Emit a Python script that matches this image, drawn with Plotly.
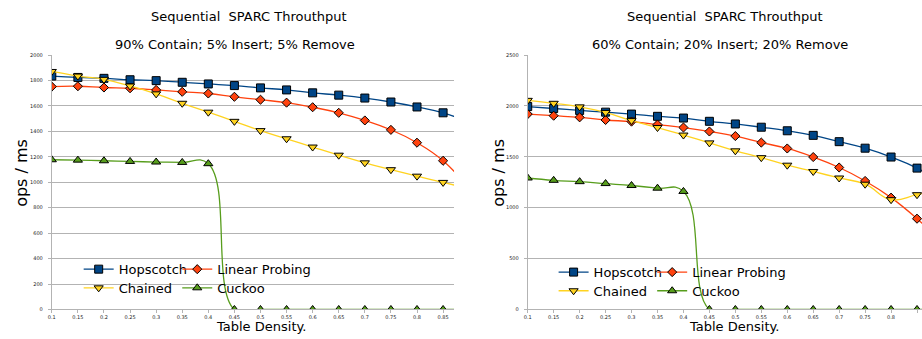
import plotly.graph_objects as go

# ---------------- data ----------------
density = [0.1, 0.15, 0.2, 0.25, 0.3, 0.35, 0.4, 0.45, 0.5, 0.55, 0.6, 0.65, 0.7, 0.75, 0.8, 0.85, 0.9]
x_tick_labels = ["0.1", "0.15", "0.2", "0.25", "0.3", "0.35", "0.4", "0.45", "0.5", "0.55",
                 "0.6", "0.65", "0.7", "0.75", "0.8", "0.85", "0.9"]

# Left chart: 90% Contain; 5% Insert; 5% Remove
left_hopscotch = [1835, 1824, 1817, 1806, 1799, 1786, 1773, 1760, 1742, 1726, 1703, 1685, 1662, 1631, 1592, 1546, 1470]
left_linear = [1752, 1755, 1745, 1739, 1726, 1711, 1698, 1672, 1649, 1626, 1590, 1546, 1486, 1412, 1311, 1169, 950]
left_chained = [1871, 1835, 1809, 1757, 1695, 1621, 1551, 1479, 1406, 1342, 1277, 1213, 1153, 1099, 1048, 999, 950]
left_cuckoo = [1177, 1174, 1169, 1164, 1159, 1156, 1146, 0, 0, 0, 0, 0, 0, 0, 0, 0, 0]
left_y_ticks = [0, 200, 400, 600, 800, 1000, 1200, 1400, 1600, 1800, 2000]

# Right chart: 60% Contain; 20% Insert; 20% Remove
right_hopscotch = [1994, 1975, 1956, 1939, 1920, 1898, 1881, 1849, 1823, 1791, 1756, 1711, 1649, 1585, 1498, 1389, 1240]
right_linear = [1920, 1904, 1888, 1862, 1846, 1817, 1788, 1749, 1704, 1640, 1582, 1498, 1395, 1263, 1099, 892, 650]
right_chained = [2055, 2026, 1991, 1936, 1856, 1788, 1714, 1637, 1559, 1492, 1418, 1356, 1292, 1231, 1079, 1128, 1180]
right_cuckoo = [1292, 1269, 1256, 1237, 1218, 1192, 1160, 0, 0, 0, 0, 0, 0, 0, 0, 0, 0]
right_y_ticks = [0, 500, 1000, 1500, 2000, 2500]

series_names = ["Hopscotch", "Linear Probing", "Chained", "Cuckoo"]
colors = ["#004586", "#ff420e", "#ffd320", "#579d1c"]
symbols = ["square", "diamond", "triangle-down", "triangle-up"]
msizes = [8, 7, 8, 8]
smooth = [1.3, 1.3, 1.3, 1.3]

W, H = 922, 339
FONT = "DejaVu Sans"

fig = go.Figure()

left = [left_hopscotch, left_linear, left_chained, left_cuckoo]
right = [right_hopscotch, right_linear, right_chained, right_cuckoo]

legend_ids_left = ["legend", "legend2", "legend3", "legend4"]
legend_ids_right = ["legend5", "legend6", "legend7", "legend8"]

for xa, ya, data, lids in (("x", "y", left, legend_ids_left), ("x2", "y2", right, legend_ids_right)):
    for i, ys in enumerate(data):
        fig.add_trace(go.Scatter(
            x=density, y=ys, name=series_names[i], mode="lines+markers",
            line=dict(color=colors[i], width=1.3, shape="spline", smoothing=smooth[i]),
            marker=dict(symbol=symbols[i], size=msizes[i], color=colors[i],
                        line=dict(color="black", width=1)),
            xaxis=xa, yaxis=ya, legend=lids[i], showlegend=True))

# plot areas in pixels
L_x0, L_x1 = 48, 452
R_x0, R_x1 = 526, 922
Y_top, Y_bot = 53, 312

def px_x(p):
    return p / W

def px_y(p):
    return 1 - p / H

step_l = (441 - 48) / 15.0
left_xmax = 0.1 + (L_x1 - L_x0) / step_l * 0.05
step_r = (917 - 526) / 15.0
right_xmax = 0.1 + (R_x1 - R_x0) / step_r * 0.05

common_x = dict(
    tickvals=density, ticktext=x_tick_labels,
    tickfont=dict(size=5, color="#222", family=FONT),
    showgrid=False, zeroline=False, showline=True, linecolor="#b3b3b3", linewidth=1,
    ticks="outside", ticklen=3, tickcolor="#b3b3b3",
)
common_y = dict(
    tickfont=dict(size=5, color="#222", family=FONT),
    showgrid=True, gridcolor="#b3b3b3", gridwidth=1, zeroline=False,
    showline=True, linecolor="#b3b3b3", linewidth=1,
    ticks="outside", ticklen=3, tickcolor="#b3b3b3", ticklabelstandoff=4,
)

fig.update_layout(
    width=W, height=H,
    showlegend=True,
    margin=dict(l=0, r=0, t=0, b=0),
    paper_bgcolor="white", plot_bgcolor="white",
    font=dict(family=FONT, color="black"),
    xaxis=dict(domain=[px_x(L_x0), px_x(L_x1)], range=[0.1, left_xmax], anchor="y", **common_x),
    yaxis=dict(domain=[px_y(Y_bot), px_y(Y_top)], range=[0, 2000], anchor="x",
               tickvals=left_y_ticks, **common_y),
    xaxis2=dict(domain=[px_x(R_x0), px_x(R_x1)], range=[0.1, right_xmax], anchor="y2", **common_x),
    yaxis2=dict(domain=[px_y(Y_bot), px_y(Y_top)], range=[0, 2500], anchor="x2",
                tickvals=right_y_ticks, **common_y),
)

# legends: one per entry, positioned individually
leg_pos_left = [(95, 271), (194, 271), (95, 290), (194, 290)]
leg_pos_right = [(572, 274), (671, 274), (572, 293), (671, 293)]
for ids, poss in ((legend_ids_left, leg_pos_left), (legend_ids_right, leg_pos_right)):
    for lid, (mx, my) in zip(ids, poss):
        fig.update_layout({lid: dict(
            x=px_x(mx - 20), y=px_y(my), xanchor="left", yanchor="middle",
            bgcolor="rgba(0,0,0,0)", borderwidth=0,
            font=dict(size=13, family=FONT, color="black"),
            orientation="h", visible=True,
        )})

annotations = [
    dict(text="Sequential&nbsp; SPARC Throuthput", x=px_x(246), y=px_y(14), font=dict(size=13)),
    dict(text="90% Contain; 5% Insert; 5% Remove", x=px_x(232), y=px_y(42), font=dict(size=13)),
    dict(text="Sequential&nbsp; SPARC Throuthput", x=px_x(724), y=px_y(14), font=dict(size=13)),
    dict(text="60% Contain; 20% Insert; 20% Remove", x=px_x(719), y=px_y(42), font=dict(size=13)),
    dict(text="ops / ms", x=px_x(18), y=px_y(173), font=dict(size=16), textangle=-90),
    dict(text="ops / ms", x=px_x(497), y=px_y(173), font=dict(size=16), textangle=-90),
    dict(text="Table Density.", x=px_x(258), y=px_y(329), font=dict(size=13)),
    dict(text="Table Density.", x=px_x(733), y=px_y(329), font=dict(size=13)),
]
for a in annotations:
    a.update(xref="paper", yref="paper", showarrow=False, xanchor="center", yanchor="middle")
    a["font"].update(family=FONT, color="black")
fig.update_layout(annotations=annotations)

fig.write_html("out.html",
               config={"displayModeBar": False},
               post_script="document.body.style.margin='0px';document.body.style.overflow='hidden';")
